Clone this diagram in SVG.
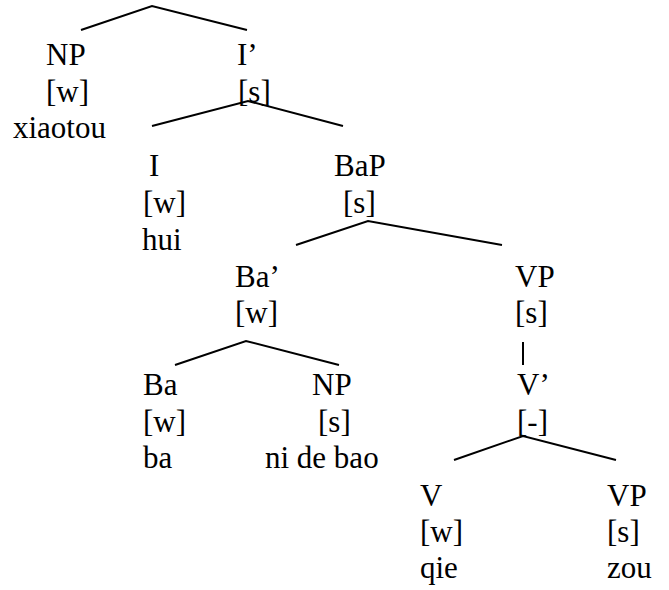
<svg xmlns="http://www.w3.org/2000/svg" width="669" height="590" viewBox="0 0 669 590" font-family="'Liberation Serif', 'DejaVu Serif', 'Times New Roman', serif">
  <style>
    .lbl { font-family: 'Liberation Serif', 'DejaVu Serif', 'Times New Roman', serif; font-size: 31px; fill: #000; }
    .edge { stroke: #000; stroke-width: 2; fill: none; stroke-linecap: butt; }
  </style>
  <rect width="669" height="590" fill="#fff"/>

  <!-- branches -->
  <g id="connectors">
    <polyline class="edge" points="81,30 152,6 247,30"/>
    <polyline class="edge" points="152,126 248,101 343,126"/>
    <polyline class="edge" points="296,245 368,221 502,245"/>
    <polyline class="edge" points="175,365 246,341 339,365"/>
    <line class="edge" x1="523" y1="342" x2="523" y2="365"/>
    <polyline class="edge" points="454,460 523,436 616,460"/>
  </g>

  <!-- subject -->
  <g id="np-subject" class="lbl">
    <text x="46" y="65">NP</text>
    <text x="46" y="102">[w]</text>
    <text x="13" y="138">xiaotou</text>
  </g>

  <g id="i-bar" class="lbl">
    <text x="237" y="65">I’</text>
    <text x="238" y="102">[s]</text>
  </g>

  <g id="i-head" class="lbl">
    <text x="149" y="176">I</text>
    <text x="143" y="213">[w]</text>
    <text x="142" y="250">hui</text>
  </g>

  <g id="bap" class="lbl">
    <text x="334" y="176">BaP</text>
    <text x="343" y="213">[s]</text>
  </g>

  <g id="ba-bar" class="lbl">
    <text x="235" y="287">Ba’</text>
    <text x="235" y="323">[w]</text>
  </g>

  <g id="vp-upper" class="lbl">
    <text x="515" y="287">VP</text>
    <text x="515" y="323">[s]</text>
  </g>

  <g id="ba-head" class="lbl">
    <text x="143" y="395">Ba</text>
    <text x="143" y="432">[w]</text>
    <text x="143" y="468">ba</text>
  </g>

  <g id="np-object" class="lbl">
    <text x="312" y="395">NP</text>
    <text x="318" y="432">[s]</text>
    <text x="265" y="468">ni de bao</text>
  </g>

  <g id="v-bar" class="lbl">
    <text x="517" y="395">V’</text>
    <text x="517" y="432">[-]</text>
  </g>

  <g id="v-head" class="lbl">
    <text x="420" y="506">V</text>
    <text x="420" y="542">[w]</text>
    <text x="420" y="578">qie</text>
  </g>

  <g id="vp-lower" class="lbl">
    <text x="607" y="506">VP</text>
    <text x="607" y="542">[s]</text>
    <text x="607" y="578">zou</text>
  </g>
</svg>
